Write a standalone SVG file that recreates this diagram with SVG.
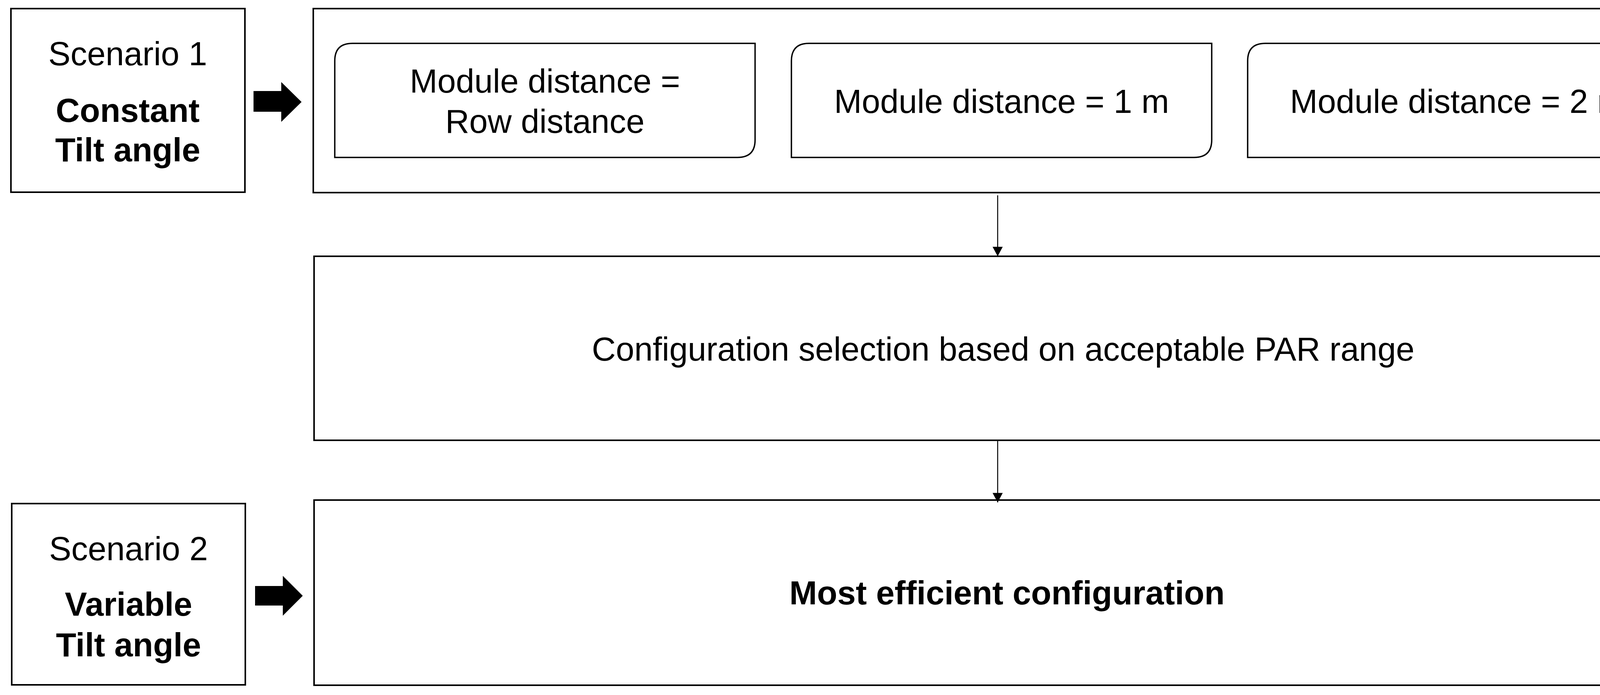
<svg xmlns="http://www.w3.org/2000/svg" width="4379" height="1779" viewBox="0 0 4379 1779">
  <style>
    .box { fill: #ffffff; stroke: #000000; stroke-width: 4; }
    .rbox { fill: #ffffff; stroke: #000000; stroke-width: 3.5; }
    .t { font-family: "Liberation Sans", Arial, sans-serif; font-size: 85px; fill: #000000; text-anchor: middle; }
    .b { font-weight: bold; }
    .conn { stroke: #000000; stroke-width: 2.5; fill: none; }
    .blk { fill: #000000; stroke: none; }
  </style>
  <defs>
    <marker id="ah" markerUnits="userSpaceOnUse" markerWidth="28" markerHeight="26" viewBox="0 0 26 28" refX="26" refY="14" orient="auto">
      <path d="M0,0 L26,14 L0,28 Z" fill="#000000"/>
    </marker>
  </defs>
  <rect width="4379" height="1779" fill="#ffffff"/>

  <g id="scenario1">
    <rect class="box" x="28" y="22" width="599" height="470"/>
    <text class="t" x="327" y="167">Scenario 1</text>
    <text class="t b" x="327" y="312">Constant</text>
    <text class="t b" x="327" y="413">Tilt angle</text>
  </g>

  <g id="arrow1">
    <polygon class="blk" points="649,233 720,233 720,210 772,261 720,312 720,286 649,286"/>
  </g>

  <g id="options">
    <rect class="box" x="802" y="22" width="3524" height="471"/>
  </g>

  <g id="opt-row">
    <path class="rbox" d="M902,111 L1933,111 L1933,358 Q1933,403 1888,403 L857,403 L857,156 Q857,111 902,111 Z"/>
    <text class="t" x="1395" y="237">Module distance =</text>
    <text class="t" x="1395" y="340">Row distance</text>
  </g>

  <g id="opt-1m">
    <path class="rbox" d="M2071,111 L3102,111 L3102,358 Q3102,403 3057,403 L2026,403 L2026,156 Q2026,111 2071,111 Z"/>
    <text class="t" x="2564" y="289">Module distance = 1 m</text>
  </g>

  <g id="opt-2m">
    <path class="rbox" d="M3239,111 L4268,111 L4268,358 Q4268,403 4223,403 L3194,403 L3194,156 Q3194,111 3239,111 Z"/>
    <text class="t" x="3731" y="289">Module distance = 2 m</text>
  </g>

  <g id="selection">
    <rect class="box" x="804" y="656" width="3523" height="471"/>
    <text class="t" x="2568" y="923">Configuration selection based on acceptable PAR range</text>
  </g>

  <g id="scenario2">
    <rect class="box" x="30" y="1289" width="598" height="464"/>
    <text class="t" x="329" y="1434">Scenario 2</text>
    <text class="t b" x="329" y="1576">Variable</text>
    <text class="t b" x="329" y="1680">Tilt angle</text>
  </g>

  <g id="arrow2">
    <polygon class="blk" points="653,1500 724,1500 724,1474 775,1525 724,1576 724,1550 653,1550"/>
  </g>

  <g id="result">
    <rect class="box" x="804" y="1280" width="3544" height="474"/>
    <text class="t b" x="2578" y="1547">Most efficient configuration</text>
  </g>

  <g id="connectors">
    <line class="conn" x1="2554" y1="500" x2="2554" y2="656" marker-end="url(#ah)"/>
    <line class="conn" x1="2554" y1="1127" x2="2554" y2="1286" marker-end="url(#ah)"/>
  </g>
</svg>
